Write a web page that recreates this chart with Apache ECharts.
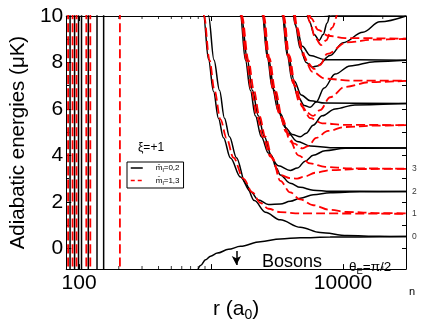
<!DOCTYPE html>
<html>
<head>
<meta charset="utf-8">
<script src="https://cdn.jsdelivr.net/npm/echarts@6/dist/echarts.min.js"></script>
<style>
html, body { margin: 0; padding: 0; background: #fff; }
#chart { width: 423px; height: 327px; }
</style>
</head>
<body>
<div id="chart"></div>
<script>
// short range walls, r in a0
const wallsBlack = [85.5, 92.5, 99.1, 104.4, 117.5, 136.8, 153.6]
const wallsRed = [82.6, 89.3, 95.7, 113.5, 121.7, 204]

// adiabatic curves [r (a0), E (uK)], black = m_l 0,2 ; red = m_l 1,3
const b1 = [[863,10.6],[878,10],[957,8.13],[1044,6.76],[1139,5.59],[1242,4.76],[1403,3.89],[1670,3.07],[1987,2.45],[2283,2.08],[2717,1.88],[3347,1.9],[3984,2.02],[4741,2.15],[5943,2.3],[7985,2.39],[13430,2.43],[30000,2.44]]
const r1 = [[870,10.6],[885,10],[974,8.1],[1062,6.8],[1179,5.55],[1309,4.75],[1478,3.9],[1759,3.0],[2057,2.4],[2364,1.95],[2717,1.7],[3347,1.55],[4741,1.5],[30000,1.48]]
const b2 = [[941,10.6],[957,10],[1053,8.1],[1159,6.8],[1264,5.6],[1379,4.8],[1557,3.9],[1822,2.8],[2130,2.05],[2579,1.55],[3347,1.22],[4741,0.9],[6712,0.68],[10730,0.55],[19010,0.51],[30000,0.5]]
const b3 = [[1641,10.6],[1670,10],[1822,8.1],[1987,6.8],[2167,5.7],[2405,4.8],[2717,4.1],[3233,3.55],[3984,3.35],[4500,3.45],[5171,3.75],[5943,4.0],[7321,4.2],[10360,4.3],[30000,4.32]]
const r3 = [[1655,10.6],[1684,10],[1854,8.1],[2022,6.8],[2225,5.7],[2469,4.8],[2813,3.95],[3347,3.15],[3984,3.02],[4500,3.0],[5171,3.1],[6153,3.25],[7985,3.36],[13430,3.41],[30000,3.42]]
const b4 = [[1670,10.6],[1699,10],[1886,8.1],[2057,6.8],[2283,5.7],[2534,4.8],[2862,4.0],[3122,3.45],[3347,3.15],[3984,2.8],[4741,2.62],[5943,2.5],[7985,2.45],[30000,2.44]]
const r4 = [[1684,10.6],[1714,10],[1919,8.1],[2112,6.8],[2323,5.7],[2579,4.8],[2913,3.9],[3347,2.9],[3984,2.4],[4741,2.1],[5943,1.85],[7985,1.65],[10730,1.56],[19010,1.51],[30000,1.5]]
const b5 = [[2405,10.6],[2448,10],[2670,8.2],[2913,6.9],[3233,5.9],[3652,5.2],[4125,4.9],[4741,4.8],[5262,4.95],[5943,5.3],[6949,5.7],[8710,6.0],[12310,6.17],[30000,6.23]]
const r5 = [[2426,10.6],[2469,10],[2693,8.2],[2964,6.8],[3289,5.8],[3716,5.0],[4271,4.5],[4909,4.3],[5448,4.4],[6261,4.75],[7713,5.05],[10360,5.22],[17420,5.28],[30000,5.3]]
const b6 = [[2448,10.6],[2491,10],[2717,8.2],[3016,6.8],[3347,5.8],[3848,4.95],[4500,4.6],[5641,4.4],[7985,4.33],[30000,4.32]]
const r6 = [[2469,10.6],[2513,10],[2765,8.2],[3069,6.8],[3466,5.6],[3984,4.6],[4579,4.0],[5641,3.65],[7321,3.5],[11290,3.44],[30000,3.42]]
const b7 = [[3406,10.6],[3466,10],[3781,8.3],[4125,7.2],[4579,6.5],[5082,6.15],[5641,6.07],[6261,6.3],[7195,6.9],[8710,7.5],[11290,7.85],[17420,8.03],[30000,8.09]]
const r7 = [[3436,10.6],[3496,10],[3814,8.3],[4197,7.1],[4659,6.3],[5262,5.85],[5943,5.7],[6712,5.95],[7985,6.5],[10360,6.95],[15980,7.15],[30000,7.21]]
const b8 = [[3466,10.6],[3527,10],[3848,8.3],[4271,7.2],[4824,6.6],[5641,6.35],[7321,6.25],[30000,6.23]]
const r8 = [[3496,10.6],[3558,10],[3915,8.3],[4346,7.0],[4909,6.1],[5641,5.6],[6949,5.38],[10360,5.31],[30000,5.3]]
const b9 = [[4125,10.6],[4346,9.6],[4741,8.6],[5262,8.0],[5840,7.8],[6371,7.85],[7985,8.3],[10010,8.85],[14150,9.3],[19010,9.75],[30000,10.0]]
const r9 = [[4161,10.6],[4422,9.5],[4824,8.6],[5354,8.0],[6047,7.72],[6712,7.9],[7580,8.37],[10730,8.87],[17420,8.98],[30000,9.02]]
const b10 = [[4197,10.6],[4500,9.4],[4909,8.7],[5641,8.3],[7321,8.12],[30000,8.09]]
const r10 = [[4234,10.6],[4500,9.5],[4995,8.3],[5840,7.6],[7321,7.3],[11290,7.22],[30000,7.21]]
const b11 = [[5171,10.6],[5544,9.8],[6047,9.2],[6596,8.95],[7071,9.2],[7580,9.7],[8125,10.3],[8560,10.8]]
const r11 = [[5217,10.6],[5641,9.7],[6153,9.05],[6829,8.75],[7449,8.95],[8268,9.5],[9176,10.1],[10010,10.6]]
const b12 = [[5262,10.6],[5840,10.25],[6712,10.08],[9500,10.01],[30000,10.0]]
const r12 = [[5308,10.6],[5740,9.9],[6482,9.4],[7713,9.15],[10360,9.05],[30000,9.02]]
const boson = [[777,-1.1],[833,-0.75],[909,-0.5],[991,-0.35],[1119,-0.21],[1355,-0.05],[1670,0.08],[2364,0.28],[3347,0.4],[4741,0.45],[7985,0.48],[30000,0.5]]

// arrow under the boson curve: r, E top, E bottom
const arrowAt = [1557, -0.12, -0.72]

// asymptotic quantum numbers n at the right edge
const nLabels = ['0', '1', '2', '3']
const nLevels = [0.5, 1.5, 2.44, 3.42]

// axis ticks
const yLabelVals = [0, 2, 4, 6, 8, 10]
const yMinorVals = [1, 3, 5, 7, 9]
const yRightVals = [0, 1, 2, 3, 4, 5, 6, 7, 8, 9, 10]
const xMinorVals = [200, 300, 400, 500, 600, 700, 800, 900, 20000]

const blackCurves = [b1, b2, b3, b4, b5, b6, b7, b8, b9, b10, b11, b12, boson]
const redCurves = [r1, r3, r4, r5, r6, r7, r8, r9, r10, r11, r12]

const FONT = 'Liberation Sans'
const X_MIN = 80, X_MAX = 30000, Y_MIN = -0.9, Y_MAX = 10

const chart = echarts.init(document.getElementById('chart'))

function curve(data, red) {
  return {
    name: red ? 'r' : 'b',
    type: 'line',
    data: data,
    symbol: 'none',
    smooth: 0.35,
    smoothMonotone: 'x',
    silent: true,
    lineStyle: red
      ? { color: '#ff0000', width: 1.8, type: [9, 4] }
      : { color: '#000', width: 1.5 },
    itemStyle: { color: red ? '#ff0000' : '#000' },
    z: red ? 3 : 2
  }
}

function wall(r, red) {
  return curve([[r, Y_MIN - 1], [r, Y_MAX + 1]], red)
}

const series = []
wallsBlack.forEach(r => series.push(wall(r, false)))
blackCurves.forEach(c => series.push(curve(c, false)))
wallsRed.forEach(r => series.push(wall(r, true)))
redCurves.forEach(c => series.push(curve(c, true)))

// arrow
series.push({
  type: 'line',
  data: [],
  silent: true,
  markLine: {
    silent: true,
    symbol: ['none', 'arrow'],
    symbolSize: [7, 9],
    label: { show: false },
    lineStyle: { color: '#000', width: 1.5, type: 'solid' },
    data: [[{ coord: [arrowAt[0], arrowAt[1]] }, { coord: [arrowAt[0], arrowAt[2]] }]]
  }
})

// log minor ticks, bottom and top
series.push({
  type: 'scatter', silent: true, clip: false,
  symbol: 'rect', symbolSize: [1, 3], symbolOffset: [0, -1.5],
  itemStyle: { color: '#000' },
  data: xMinorVals.map(v => [v, Y_MIN])
})
series.push({
  type: 'scatter', silent: true, clip: false,
  symbol: 'rect', symbolSize: [1, 3], symbolOffset: [0, 1.5],
  itemStyle: { color: '#000' },
  data: xMinorVals.map(v => [v, Y_MAX])
})

// n labels on the right
series.push({
  type: 'scatter', silent: true, clip: false,
  symbolSize: 0,
  data: nLevels.map((e, i) => ({ value: [X_MAX, e], name: nLabels[i] })),
  label: {
    show: true, position: 'right', distance: 6,
    formatter: p => p.name,
    fontFamily: FONT, fontSize: 8.5, color: '#000'
  }
})

const option = {
  animation: false,
  backgroundColor: '#fff',
  grid: { left: 65, right: 17, top: 16, bottom: 50 },
  legend: {
    data: [
      { name: 'b', lineStyle: { color: '#000', width: 1.5, type: 'solid' } },
      { name: 'r', lineStyle: { color: '#ff0000', width: 1.5, type: [4, 3] } }
    ],
    orient: 'vertical',
    left: 127, top: 162,
    itemWidth: 12, itemHeight: 8, itemGap: 3,
    padding: [2, 4, 2, 3],
    borderColor: '#000', borderWidth: 1,
    selectedMode: false,
    itemStyle: { color: 'rgba(0,0,0,0)', borderWidth: 0, opacity: 0 },
    formatter: n => n === 'b' ? '{g|}{t|m\u0304}{s|l}{t|=0,2}' : '{g|}{t|m\u0304}{s|l}{t|=1,3}',
    textStyle: {
      fontFamily: FONT, fontSize: 8, color: '#000',
      rich: {
        g: { width: 8 },
        t: { fontFamily: FONT, fontSize: 8, color: '#000' },
        s: { fontFamily: FONT, fontSize: 6, color: '#000', padding: [5, 0, 0, 0] }
      }
    }
  },
  xAxis: [
    {
      type: 'log', logBase: 10, min: X_MIN, max: X_MAX, splitNumber: 2,
      position: 'bottom',
      name: '{a|r (a}{s|0}{a|)}', nameLocation: 'middle', nameGap: 20,
      nameTextStyle: {
        rich: {
          a: { fontFamily: FONT, fontSize: 21, color: '#000' },
          s: { fontFamily: FONT, fontSize: 14, color: '#000', padding: [11, 0, 0, 0] }
        }
      },
      axisLine: { onZero: false, lineStyle: { color: '#000', width: 1 } },
      axisTick: { inside: true, length: 5, lineStyle: { color: '#000' } },
      axisLabel: {
        margin: 4, fontFamily: FONT, fontSize: 21, color: '#000',
        showMinLabel: false, showMaxLabel: false,
        formatter: v => {
          const k = Math.round(v)
          return (k === 100 || k === 10000) ? String(k) : ''
        }
      },
      splitLine: { show: false }
    },
    {
      type: 'log', logBase: 10, min: X_MIN, max: X_MAX, splitNumber: 2,
      position: 'top',
      axisLine: { onZero: false, lineStyle: { color: '#000', width: 1 } },
      axisTick: { inside: true, length: 5, lineStyle: { color: '#000' } },
      axisLabel: { show: false },
      splitLine: { show: false }
    }
  ],
  yAxis: [
    {
      type: 'value', min: Y_MIN, max: Y_MAX, position: 'left',
      name: 'Adiabatic energies (\u03bcK)', nameLocation: 'middle', nameGap: 27,
      nameTextStyle: { fontFamily: FONT, fontSize: 20.5, color: '#000' },
      axisLine: { show: true, onZero: false, lineStyle: { color: '#000', width: 1 } },
      axisTick: { inside: true, length: 5, customValues: yLabelVals, lineStyle: { color: '#000' } },
      axisLabel: { margin: 3, fontFamily: FONT, fontSize: 21, color: '#000', customValues: yLabelVals },
      splitLine: { show: false }
    },
    {
      type: 'value', min: Y_MIN, max: Y_MAX, position: 'left',
      axisLine: { show: false, onZero: false },
      axisTick: { inside: true, length: 3, customValues: yMinorVals, lineStyle: { color: '#000' } },
      axisLabel: { show: false },
      splitLine: { show: false }
    },
    {
      type: 'value', min: Y_MIN, max: Y_MAX, position: 'right',
      axisLine: { show: true, onZero: false, lineStyle: { color: '#000', width: 1 } },
      axisTick: { inside: true, length: 4, customValues: yRightVals, lineStyle: { color: '#000' } },
      axisLabel: { show: false },
      splitLine: { show: false }
    }
  ],
  graphic: [
    { type: 'text', left: 138, top: 142, style: { text: '\u03be=+1', font: '12px "Liberation Sans"', fill: '#000' } },
    { type: 'text', x: 262, y: 262, style: { text: 'Bosons', font: '18px "Liberation Sans"', fill: '#000', verticalAlign: 'middle' } },
    {
      type: 'text', x: 349, y: 267,
      style: {
        text: '{a|\u03b8}{s|E}{a|=\u03c0/2}', verticalAlign: 'middle', fill: '#000',
        rich: {
          a: { fontFamily: FONT, fontSize: 13.5, fill: '#000' },
          s: { fontFamily: FONT, fontSize: 9.5, fill: '#000', padding: [8, 0, 0, 0] }
        }
      }
    },
    { type: 'text', x: 409, y: 292, style: { text: 'n', font: '11px "Liberation Sans"', fill: '#000', verticalAlign: 'middle' } }
  ],
  series: series
}

chart.setOption(option)
</script>
</body>
</html>
